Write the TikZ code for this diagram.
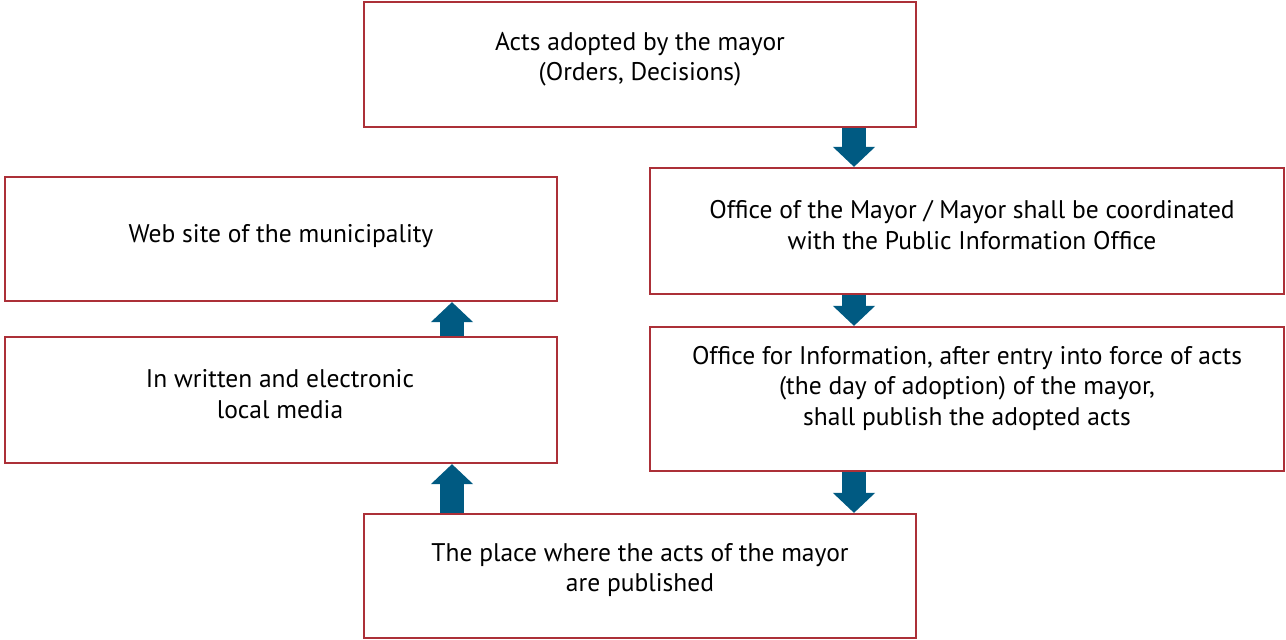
\documentclass[tikz,border=0pt]{standalone}
\usepackage{fontspec}
\setmainfont{PT Sans}
\usetikzlibrary{arrows.meta}
\definecolor{boxred}{RGB}{172,48,56}
\definecolor{arrowblue}{RGB}{0,90,130}
\tikzset{
  box/.style={draw=boxred, line width=2.2pt, fill=white, rectangle, inner sep=0pt},
  txt/.style={align=center, font=\fontsize{25.5}{30.5}\selectfont, inner sep=0pt, text=black},
  fatarrow/.style={draw=arrowblue, line width=24pt, -{Triangle[width=41pt,length=20pt]}}
}
\begin{document}
\begin{tikzpicture}[x=1pt,y=-1pt]
\useasboundingbox (0,0) rectangle (1286,640);
\node[box, minimum width=552pt, minimum height=125pt] (b1) at (640,64.5) {};
\node[box, minimum width=634pt, minimum height=126pt] (b2) at (967,231) {};
\node[box, minimum width=634pt, minimum height=144pt] (b3) at (967,399) {};
\node[box, minimum width=552pt, minimum height=124pt] (b4) at (640,576) {};
\node[box, minimum width=552pt, minimum height=124pt] (b5) at (281,239) {};
\node[box, minimum width=552pt, minimum height=126pt] (b6) at (281,400) {};
\node[txt] (t1) at (640,59) {Acts adopted by the mayor\\(Orders, Decisions)};
\node[txt] (t2) at (972,225) {Office of the Mayor / Mayor shall be coordinated\\with the Public Information Office};
\node[txt] (t3) at (967,388) {Office for Information, after entry into force of acts\\(the day of adoption) of the mayor,\\shall publish the adopted acts};
\node[txt] (t4) at (640,570) {The place where the acts of the mayor\\are published};
\node[txt] (t5) at (281,236) {Web site of the municipality};
\node[txt] (t6) at (280,394) {In written and electronic\\local media};
\coordinate (xr) at (854,0);
\coordinate (xl) at (452,0);
\draw[fatarrow] (b1.south -| xr) -- (b2.north -| xr);
\draw[fatarrow] (b2.south -| xr) -- (b3.north -| xr);
\draw[fatarrow] (b3.south -| xr) -- (b4.north -| xr);
\draw[fatarrow] (b4.north -| xl) -- (b6.south -| xl);
\draw[fatarrow] (b6.north -| xl) -- (b5.south -| xl);
\end{tikzpicture}
\end{document}
